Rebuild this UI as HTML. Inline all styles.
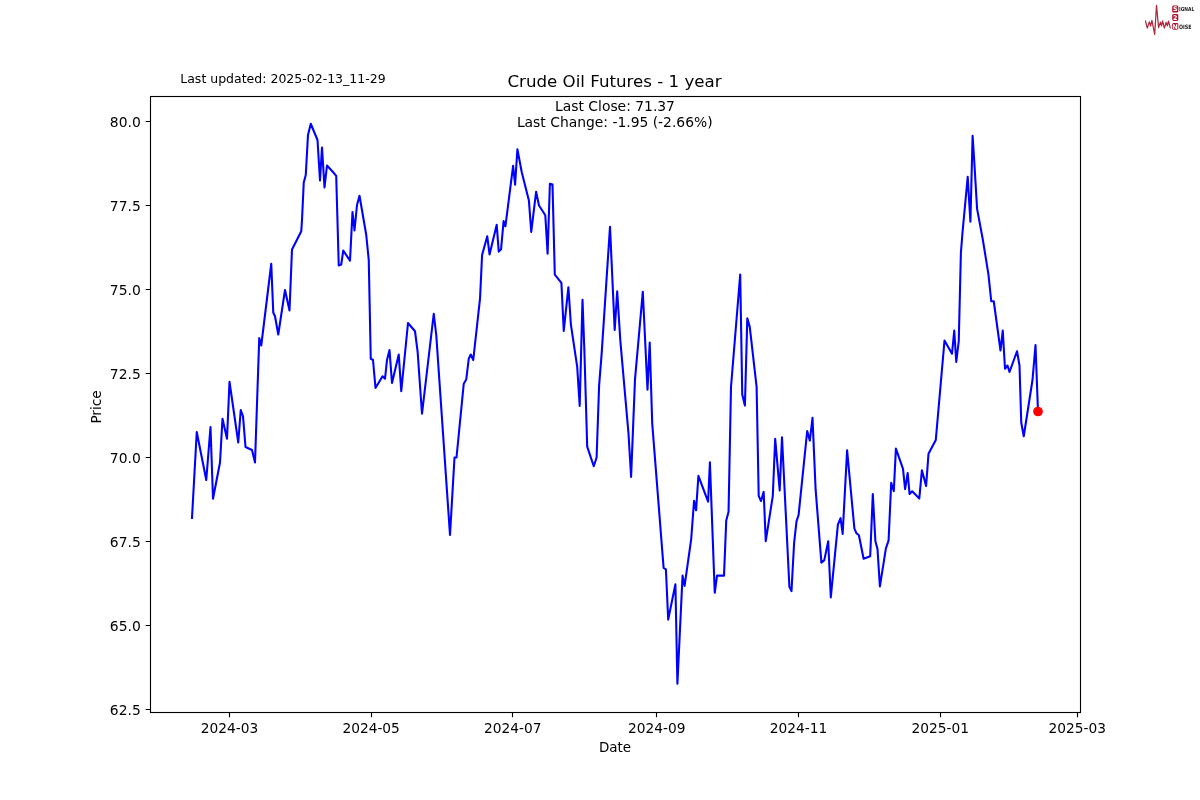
<!DOCTYPE html>
<html><head><meta charset="utf-8"><title>Crude Oil Futures - 1 year</title>
<style>html,body{margin:0;padding:0;background:#fff}svg{display:block;will-change:transform}</style></head>
<body><svg width="1200" height="800" viewBox="0 0 1200 800">
<rect width="1200" height="800" fill="#fff"/>
<polyline points="192,518 196.75,432 206.25,480 210.5,427 213,498.75 220,462.5 222.5,418.75 227,438.75 229.5,381.75 238.25,442.5 240.75,410 243,416.25 245.5,447 252,450 255,462.5 259.25,338 261.25,345.5 271.25,263.75 273.25,312.5 275,316.25 278.25,334.5 285,290 289.5,310.5 292,249.5 301.25,231.25 302,220 303.75,182.5 305.75,175 308,135 310.75,123.75 317.5,140 320,180.5 322,147.5 324.5,187.5 327,165.5 334.5,173.8 336.2,175.8 338.75,265.5 341.25,264.5 343.25,250.5 350,260.75 352.5,212 354.5,230.5 357,205 359.5,195.75 366.25,235 368.75,260 370.75,358.75 373,360 375.5,388 382.5,376.25 385,378.75 387,360 389.5,350 392,383 398.75,354.5 401.25,391.25 408,323 415,331.25 417.6,351.5 422,413.75 433.75,313.75 436.25,335 450,535 454.5,457.5 456.5,457.5 463.75,383.75 466.25,379.5 468.75,358.75 470.75,354.5 473.25,360 480.06,298.1 482.08,255 487.25,236.3 489.55,254.4 496.7,224.8 498.75,251.6 501.05,249.3 503.6,221.1 505.4,226.3 513.1,165.9 515.1,184.6 517.4,149.2 521.75,172.2 528.9,200.4 531.25,232 536.1,191.75 539,205.55 545.3,215.3 547.6,253.6 549.9,183.7 552.5,184.6 554.8,274.6 561.4,282.9 563.75,330.9 568.4,287.2 570.9,324.7 577.2,366.9 579.7,405.9 582.5,299.7 584.4,351.25 587.2,446.6 593.75,466.25 596.6,457.5 599.1,385.6 601.6,354.4 610,226.9 614.7,330 617.2,291.25 620.3,340.3 628.5,433.5 631.1,476.9 635,379.4 642.8,291.9 647.5,389.7 649.7,342.5 652.2,423.1 663.6,567.8 665.9,569.3 668.2,619.6 675.4,584.2 677.4,683.7 682.55,575.6 684.6,585.9 691.2,539.1 694.05,500.8 696.1,510.3 698.4,475.8 708.1,501.7 709.9,462.3 714.75,592.8 717.05,575.6 724,575.6 726.25,520.4 728.55,511.75 731,387 740.2,274.5 742.25,394.4 744.9,405.6 747.3,318.4 749.75,326.9 756.6,386.9 758.7,495.8 761,501 763.65,491.9 765.75,541.2 772.8,495.8 775.2,438.8 779.7,490.55 782,437.3 789.4,586.9 791.5,591.1 794.1,543 796.5,521.3 798.6,515 807.2,431 809.85,440.7 812.5,417.8 815.6,489.2 821.4,562.7 824.3,560.1 828.2,541.2 830.8,597.4 837.9,524.7 840.55,518.1 842.65,533.9 847.1,450.4 854.4,528.6 856.5,533.3 858.9,535.2 863.6,558.8 870.2,556.2 872.8,494 875.4,541.2 877.5,549.1 879.9,586.4 885.9,548.3 888.6,540.4 891.2,482.7 893.8,491.3 895.9,448.6 903,468.8 905.1,489.2 907.7,473 909.55,494 912.2,491.3 919.3,498.4 921.9,470.3 926.1,486.1 928.5,453.8 935.8,439.9 944.5,340.5 952,353.75 954.25,330.5 956.25,362 958.75,341.25 960.9,252.75 962.5,232.5 967.7,176.9 970.4,221.7 972.6,135.75 974.2,160.5 977.1,208.9 982.75,239.25 988.4,274.1 991.25,301.25 993.75,301.25 1000.5,350.5 1002.75,330.5 1005,368.75 1007.5,365.5 1009.5,372 1017,351.25 1019.5,365.5 1021.25,422.5 1023.75,436.25 1032.5,380 1035.5,345 1038,411.5" fill="none" stroke="#0000ff" stroke-width="2.083" stroke-linejoin="round" stroke-linecap="square"/>
<circle cx="1038" cy="411.5" r="4.167" fill="#ff0000" stroke="#ff0000" stroke-width="1.389"/>
<rect x="150.5" y="96.5" width="930" height="616" fill="none" stroke="#000" stroke-width="1.11" stroke-linecap="square"/>
<path d="M229.5 712.5V717.36 M371.5 712.5V717.36 M512.5 712.5V717.36 M656.5 712.5V717.36 M798.5 712.5V717.36 M940.5 712.5V717.36 M1077.5 712.5V717.36 M150.5 709.5H145.64 M150.5 625.5H145.64 M150.5 541.5H145.64 M150.5 457.5H145.64 M150.5 373.5H145.64 M150.5 289.5H145.64 M150.5 205.5H145.64 M150.5 121.5H145.64" stroke="#000" stroke-width="1.11" fill="none"/>
<g font-family="'DejaVu Sans', 'Liberation Sans', sans-serif" fill="#000">
<text x="229.44" y="733.03" font-size="13.75" text-anchor="middle">2024-03</text>
<text x="371.12" y="733.03" font-size="13.75" text-anchor="middle">2024-05</text>
<text x="512.8" y="733.03" font-size="13.75" text-anchor="middle">2024-07</text>
<text x="656.81" y="733.03" font-size="13.75" text-anchor="middle">2024-09</text>
<text x="798.49" y="733.03" font-size="13.75" text-anchor="middle">2024-11</text>
<text x="940.17" y="733.03" font-size="13.75" text-anchor="middle">2025-01</text>
<text x="1077.21" y="733.03" font-size="13.75" text-anchor="middle">2025-03</text>
<text x="615" y="752.02" font-size="13.47" text-anchor="middle">Date</text>
<text x="140.78" y="714.73" font-size="13.89" text-anchor="end">62.5</text>
<text x="140.78" y="630.73" font-size="13.89" text-anchor="end">65.0</text>
<text x="140.78" y="546.73" font-size="13.89" text-anchor="end">67.5</text>
<text x="140.78" y="462.73" font-size="13.89" text-anchor="end">70.0</text>
<text x="140.78" y="378.73" font-size="13.89" text-anchor="end">72.5</text>
<text x="140.78" y="294.73" font-size="13.89" text-anchor="end">75.0</text>
<text x="140.78" y="210.73" font-size="13.89" text-anchor="end">77.5</text>
<text x="140.78" y="126.73" font-size="13.89" text-anchor="end">80.0</text>
<text x="100.91" y="407" font-size="13.61" text-anchor="middle" transform="rotate(-90 100.91 407)">Price</text>
<text x="615" y="111.21" font-size="13.89" text-anchor="middle">Last Close: 71.37</text>
<text x="614.75" y="127.02" font-size="13.89" text-anchor="middle">Last Change: -1.95 (-2.66%)</text>
<text x="614.5" y="86.92" font-size="16.67" text-anchor="middle">Crude Oil Futures - 1 year</text>
<text x="180.25" y="83" font-size="12.5">Last updated: 2025-02-13_11-29</text>
</g>
<g>
<polyline points="1145.5,20.8 1147.3,28.1 1149.3,21.9 1150.6,26 1151.9,20.4 1154.7,34.4 1156.5,5.4 1158.6,27.6 1160.4,22.1 1161.5,25.8 1162.6,21 1164.4,28.2 1166.1,22.3 1167.4,25.8 1168.5,21.2 1170.3,27.9" fill="none" stroke="#a3142b" stroke-width="1.25" stroke-linejoin="round" stroke-linecap="round" opacity="0.9"/>
<rect x="1172.2" y="5.5" width="6.1" height="7.1" rx="1.4" fill="#a8172e"/>
<rect x="1172.2" y="14.1" width="6.1" height="6.8" rx="1.4" fill="#a8172e"/>
<rect x="1172.2" y="22.9" width="6.1" height="6.8" rx="1.4" fill="#a8172e"/>
<g font-family="'DejaVu Sans', 'Liberation Sans', sans-serif" font-weight="bold">
<text x="1175.25" y="11.4" font-size="6.4" fill="#fff" text-anchor="middle">S</text>
<text x="1175.25" y="19.85" font-size="6.4" fill="#fff" text-anchor="middle">2</text>
<text x="1175.25" y="28.65" font-size="6.4" fill="#fff" text-anchor="middle">N</text>
<text x="1179" y="11.1" font-size="5.35" fill="#222" textLength="15.3" lengthAdjust="spacingAndGlyphs">IGNAL</text>
<text x="1179" y="28.7" font-size="6" fill="#222" textLength="12.6" lengthAdjust="spacingAndGlyphs">OISE</text>
</g>
</g>

</svg></body></html>
